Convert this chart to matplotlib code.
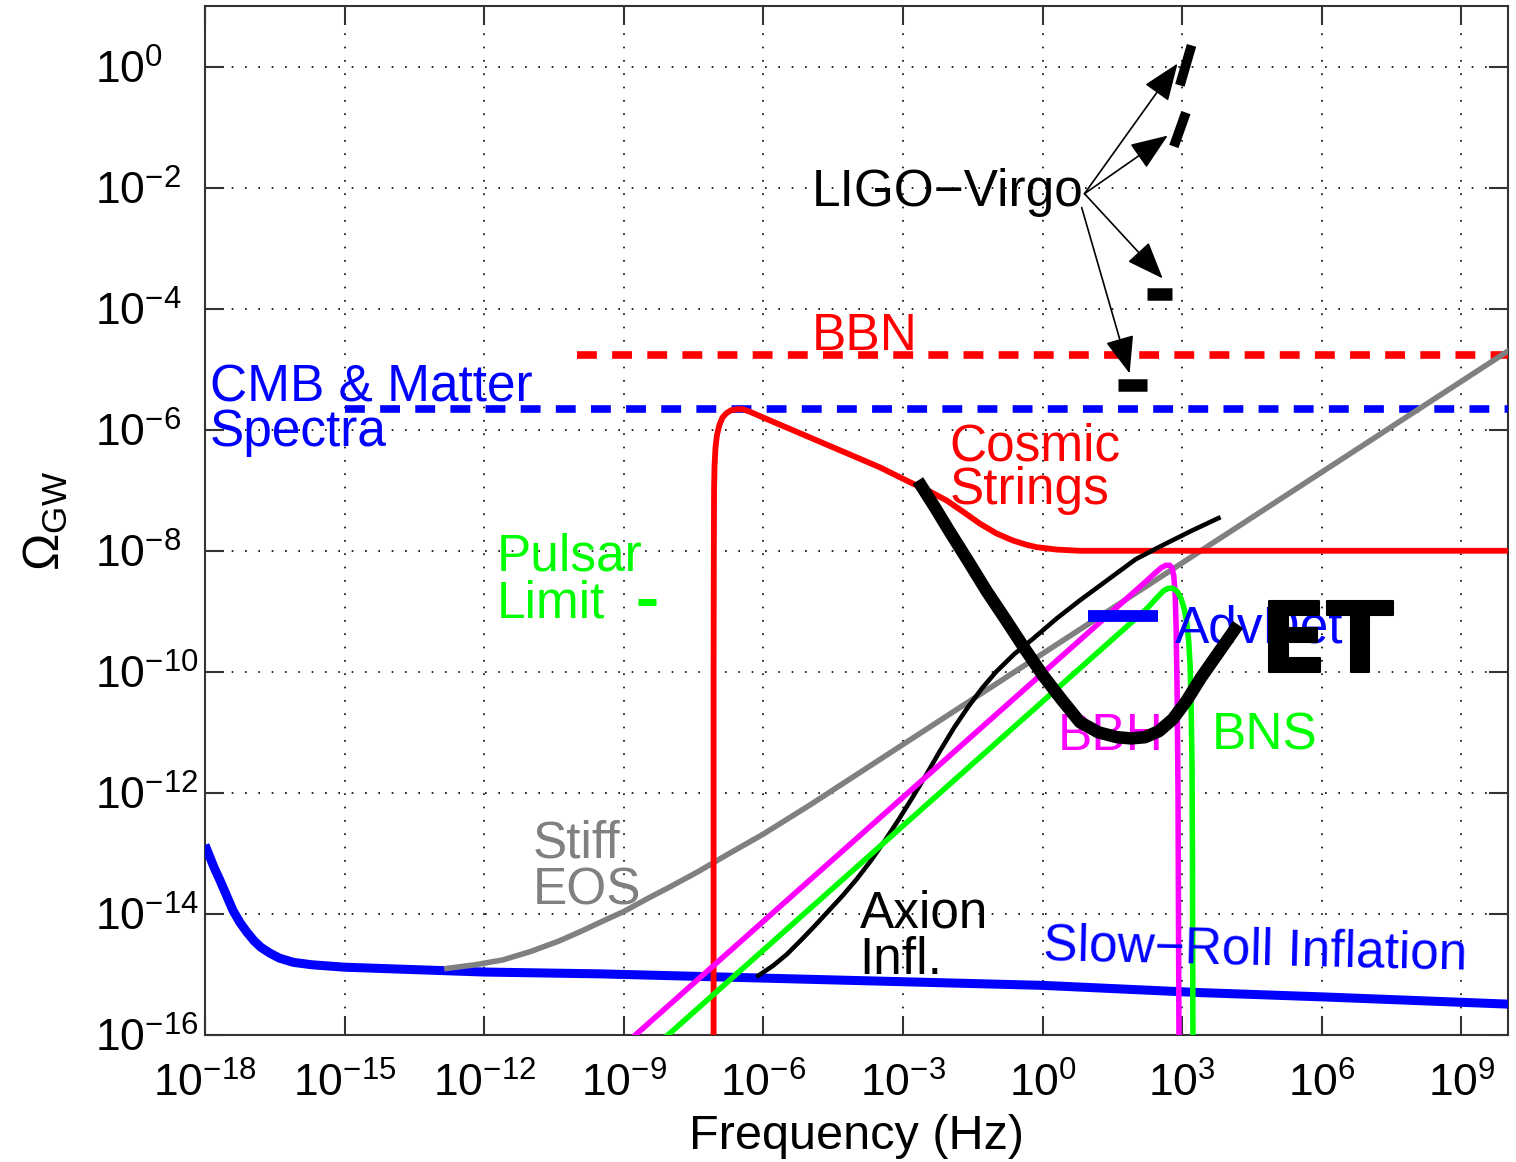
import numpy as np
import matplotlib
matplotlib.use('Agg')
import matplotlib.pyplot as plt
import matplotlib.patheffects as pe
from matplotlib.ticker import FixedLocator, FuncFormatter, NullLocator

# ---- curves, stored as log10(frequency / Hz) and log10(Omega_GW) ----
slow_f  = [-18.0, -17.9, -17.8, -17.68, -17.55, -17.4, -17.25, -17.1, -16.95, -16.8, -16.6, -16.4,
           -16.1, -15.7, -15.0, -12.0, -9.5, -6.0, -3.0, 0.0, 3.4, 6.0, 10.0]
slow_om = [-12.86, -13.05, -13.24, -13.44, -13.67, -13.94, -14.14, -14.3, -14.44, -14.55, -14.65, -14.73,
           -14.8, -14.84, -14.88, -14.96, -14.99, -15.06, -15.12, -15.18, -15.3, -15.37, -15.49]

stiff_f  = [-12.8, -12.2, -11.6, -11.0, -10.4, -9.9, -9.4, -9.0, -8.5, -8.0, -7.4, -6.8, -6.0, -5.0, -3.5, 0.0, 5.0, 10.0]
stiff_om = [-14.9, -14.84, -14.76, -14.62, -14.45, -14.28, -14.1, -13.96, -13.75, -13.55, -13.3, -13.03, -12.68,
            -12.2, -11.45, -9.7, -7.2, -4.7]

cs_f  = [-7.07, -7.07, -7.065, -7.06, -7.05, -7.03, -7.0, -6.95, -6.88, -6.8, -6.7, -6.57, -6.45, -6.3, -6.0,
         -3.5, -2.79, -2.4, -2.06, -1.7, -1.35, -1.0, -0.64, -0.35, -0.13, 0.3, 0.8, 10.0]
cs_om = [-16.0, -10.0, -8.0, -7.0, -6.6, -6.3, -6.1, -5.93, -5.8, -5.73, -5.68, -5.66, -5.66, -5.7, -5.8,
         -6.62, -6.89, -7.03, -7.17, -7.36, -7.55, -7.71, -7.83, -7.9, -7.94, -7.98, -8.0, -8.0]

axion_f  = [-6.11, -5.8, -5.5, -5.2, -4.9, -4.6, -4.3, -4.0, -3.7, -3.4, -3.1, -2.8, -2.5, -2.2, -1.9, -1.6,
            -1.3, -1.0, -0.6, -0.2, 0.3, 0.8, 1.4, 2.0, 2.6, 3.2, 3.78]
axion_om = [-15.02, -14.86, -14.67, -14.44, -14.2, -13.95, -13.7, -13.43, -13.13, -12.8, -12.45, -12.08, -11.7,
            -11.3, -10.92, -10.58, -10.27, -10.0, -9.7, -9.45, -9.12, -8.82, -8.48, -8.14, -7.9, -7.67, -7.46]

bbh_f  = [-8.75, 2.2, 2.4, 2.55, 2.65, 2.73, 2.78, 2.82, 2.85, 2.87, 2.89, 2.91, 2.93]
bbh_om = [-16.0, -8.52, -8.38, -8.28, -8.24, -8.24, -8.28, -8.42, -8.75, -9.3, -10.3, -12.0, -16.0]

bns_f  = [-8.05, 2.25, 2.45, 2.6, 2.7, 2.8, 2.9, 2.98, 3.05, 3.1, 3.14, 3.17, 3.19, 3.21, 3.22, 3.23]
bns_om = [-16.0, -8.95, -8.78, -8.66, -8.62, -8.62, -8.68, -8.8, -8.98, -9.2, -9.5, -9.9, -10.5, -11.5, -13.0, -16.0]

et_f  = [-2.68, -2.3, -2.0, -1.6, -1.2, -0.8, -0.4, 0.0, 0.4, 0.8, 1.2, 1.6, 1.9, 2.2, 2.5, 2.8, 3.1, 3.4,
         3.7, 4.0, 4.2]
et_om = [-6.84, -7.3, -7.68, -8.17, -8.67, -9.13, -9.6, -10.05, -10.45, -10.83, -11.0, -11.08, -11.1, -11.08,
         -10.98, -10.78, -10.47, -10.1, -9.77, -9.44, -9.22]

bbn_f, bbn_om = [-10.0, 10.0], [-4.77, -4.77]
cmb_f, cmb_om = [-15.0, 10.0], [-5.66, -5.66]
pulsar_f, pulsar_om = [-8.7, -8.31], [-8.85, -8.85]
advdet_f, advdet_om = [0.98, 2.49], [-9.08, -9.08]

# LIGO-Virgo upper limits (segments) and the arrows pointing at them
ligo_f  = [[2.95, 3.2], [2.82, 3.08], [2.24, 2.79], [1.62, 2.24]]
ligo_om = [[-0.31, 0.35], [-1.32, -0.76], [-3.75, -3.75], [-5.26, -5.26]]
ligo_lw = [7, 7, 9, 9]
arrow_tail = [(0.9, -2.1), (0.9, -2.1), (0.9, -2.1), (0.84, -2.33)]
arrow_tip  = [(2.9, 0.05), (2.69, -1.14), (2.58, -3.5), (1.87, -5.07)]

xtick_exp = list(range(-18, 10, 3))
ytick_exp = list(range(-16, 1, 2))


def lg(a):
    return 10.0 ** np.asarray(a, dtype=float)


plt.rcParams['font.family'] = ['Liberation Sans', 'DejaVu Sans']
plt.rcParams['mathtext.fontset'] = 'custom'
plt.rcParams['mathtext.rm'] = 'Liberation Sans'
plt.rcParams['mathtext.it'] = 'Liberation Sans:italic'
plt.rcParams['mathtext.bf'] = 'Liberation Sans:bold'

fig = plt.figure(figsize=(15.16, 11.62), dpi=100)
ax = fig.add_axes([0.1352, 0.1093, 0.8595, 0.8855])
ax.set_xscale('log')
ax.set_yscale('log')
ax.set_xlim(1e-18, 1e10)
ax.set_ylim(1e-16, 1e1)

BLUE, RED, GREEN, MAG, GRAY = '#0000FF', '#FF0000', '#00FF00', '#FF00FF', '#808080'

# bounds
ax.plot(lg(bbn_f), lg(bbn_om), color=RED, lw=5.5, ls=(0, (2.6, 2.0)), dash_capstyle='butt', zorder=3)
ax.plot(lg(cmb_f), lg(cmb_om), color=BLUE, lw=5.5, ls=(0, (2.6, 2.0)), dash_capstyle='butt', zorder=3)

# spectra
ax.plot(lg(slow_f), lg(slow_om), color=BLUE, lw=6.5, solid_capstyle='butt', zorder=3)
ax.plot(lg(stiff_f), lg(stiff_om), color=GRAY, lw=4, zorder=4)
ax.plot(lg(cs_f), lg(cs_om), color=RED, lw=4.2, zorder=4)
ax.plot(lg(axion_f), lg(axion_om), color='k', lw=3.3, zorder=4)
ax.plot(lg(bbh_f), lg(bbh_om), color=MAG, lw=4, zorder=4)
ax.plot(lg(bns_f), lg(bns_om), color=GREEN, lw=4, zorder=4)

# detectors
ax.plot(lg(pulsar_f), lg(pulsar_om), color=GREEN, lw=5, solid_capstyle='butt', zorder=4)
ax.plot(lg(advdet_f), lg(advdet_om), color=BLUE, lw=8.5, solid_capstyle='butt', zorder=4)
for fs, oms, w in zip(ligo_f, ligo_om, ligo_lw):
    ax.plot(lg(fs), lg(oms), color='k', lw=w, solid_capstyle='butt', zorder=5)
for (tf, to), (hf, ho) in zip(arrow_tail, arrow_tip):
    ax.annotate('', xy=(lg(hf), lg(ho)), xytext=(lg(tf), lg(to)),
                arrowprops=dict(arrowstyle='-|>,head_length=0.9,head_width=0.35',
                                color='k', lw=1.2, shrinkA=0, shrinkB=0,
                                mutation_scale=26), zorder=5)

# labels
FS = 37
def lab(x, y, s, c, **kw):
    ax.text(lg(x), lg(y), s, color=c, fontsize=kw.pop('fontsize', FS),
            ha='left', va='baseline', zorder=6, **kw)

lab(-4.96, -4.69, 'BBN', RED)
lab(-17.89, -5.53, 'CMB & Matter', BLUE)
lab(-17.89, -6.27, 'Spectra', BLUE)
lab(-2.0, -6.51, 'Cosmic', RED)
lab(-2.0, -7.22, 'Strings', RED)
lab(-11.73, -8.32, 'Pulsar', GREEN)
lab(-11.73, -9.1, 'Limit', GREEN)
lab(-4.96, -2.3, 'LIGO\u2212Virgo', 'k')
lab(2.84, -9.51, 'AdvDet', BLUE)
lab(0.32, -11.29, 'BBH', MAG)
lab(3.63, -11.29, 'BNS', GREEN)
lab(-10.95, -13.06, 'Stiff', GRAY)
lab(-10.95, -13.84, 'EOS', GRAY)
lab(-3.93, -14.22, 'Axion', 'k')
lab(-3.93, -14.99, 'Infl.', 'k')
lab(0.0, -14.76, 'Slow\u2212Roll Inflation', BLUE, rotation=-1.3, rotation_mode='anchor')

# Einstein Telescope sensitivity drawn over everything
ax.plot(lg(et_f), lg(et_om), color='k', lw=9, solid_capstyle='butt', zorder=7)
ax.text(lg(4.68), lg(-10.0), 'ET', fontsize=70, fontweight='bold', family='DejaVu Sans',
        color='k', ha='left', va='baseline', zorder=8,
        path_effects=[pe.withStroke(linewidth=1.5, foreground='k', joinstyle='round')])

# axes styling
ax.xaxis.set_major_locator(FixedLocator(lg(xtick_exp)))
ax.yaxis.set_major_locator(FixedLocator(lg(ytick_exp)))
ax.xaxis.set_minor_locator(NullLocator())
ax.yaxis.set_minor_locator(NullLocator())
fmt = FuncFormatter(lambda v, p: r'$\mathregular{10^{%d}}$' % int(round(np.log10(v))))
ax.xaxis.set_major_formatter(fmt)
ax.yaxis.set_major_formatter(fmt)
ax.tick_params(which='major', direction='in', length=14, width=1.5, top=True, right=True,
               labelsize=32, color='#333333')
ax.tick_params(axis='x', pad=20)
ax.tick_params(axis='y', pad=79)
for t in ax.get_yticklabels():
    t.set_horizontalalignment('left')
ax.grid(True, which='major', color='k', lw=1.2, ls=(0, (1, 7)))
for sp in ax.spines.values():
    sp.set_color('#333333')
    sp.set_linewidth(1.5)

ax.set_xlabel('Frequency (Hz)', fontsize=35, labelpad=6)
ax.set_ylabel(r'$\Omega_{\mathregular{GW}}$', fontsize=36, labelpad=18)

fig.savefig('out.png', dpi=100)
